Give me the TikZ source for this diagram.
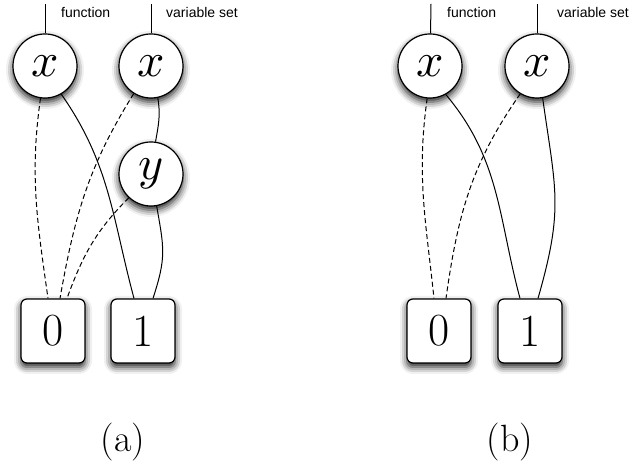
\documentclass[tikz,border=0pt]{standalone}
\usepackage{fontspec}
\usepackage{unicode-math}
\setmathfont{Latin Modern Math}
\newfontfamily\lblfont{Liberation Sans}
\usetikzlibrary{positioning,shadows.blur}

\begin{document}
\begin{tikzpicture}[x=1pt, y=1pt,
    var/.style={circle, draw, line width=1.2pt, fill=white, minimum size=64pt,
          inner sep=0pt, font=\fontsize{48}{50}\selectfont,
          blur shadow={shadow xshift=0pt, shadow yshift=-4pt,
          shadow blur radius=7pt, shadow opacity=90}},
    term/.style={draw, line width=1.2pt, fill=white, rounded corners=6pt,
          minimum size=64pt, inner sep=0pt, font=\fontsize{46}{48}\selectfont,
          blur shadow={shadow xshift=0pt, shadow yshift=-4pt,
          shadow blur radius=7pt, shadow opacity=90}},
    hi/.style={line width=1pt},
    lo/.style={line width=1pt, dash pattern=on 5pt off 3pt},
    lbl/.style={anchor=base west, inner sep=0pt,
          font=\lblfont\fontsize{14}{16}\selectfont},
    subcap/.style={font=\fontsize{38}{40}\selectfont}]
  \useasboundingbox (0,0) rectangle (630,465);

  % (a) with the extra y node
  \node[var] (fa) at (45,399) {$x$};
  \node[var] (va) at (151,399) {$x$};
  \node[var] (ya) at (151,291) {$y$};
  \node[term] (za) at (53,134) {0};
  \node[term] (oa) at (143,134) {1};
  \coordinate (fa top) at (45,461);
  \coordinate (va top) at (151,461);
  \node[lbl] (fa lbl) at (61,447) {function};
  \node[lbl] (va lbl) at (166,447) {variable set};
  \node[subcap] (capa) at (123,23) {(a)};

  \draw[hi] (fa top) -- (fa);
  \draw[hi] (va top) -- (va);
  \draw[lo] (fa.262) to[out=262, in=98] ([xshift=-5pt]za.north);
  \draw[hi] (fa.300) to[out=-55, in=105] ([xshift=-9pt]oa.north);
  \draw[lo] (va.238) to[out=238, in=80] ([xshift=7pt]za.north);
  \draw[hi] (va.282) to[out=-80, in=80] (ya.82);
  \draw[lo] (ya.227) to[out=225, in=70] ([xshift=14pt]za.north);
  \draw[hi] (ya.280) to[out=-80, in=72, looseness=1.2] ([xshift=10pt]oa.north);

  % (b) reduced
  \node[var] (fb) at (430,399) {$x$};
  \node[var] (vb) at (537,399) {$x$};
  \node[term] (zb) at (439,134) {0};
  \node[term] (ob) at (530,134) {1};
  \coordinate (fb top) at (431,461);
  \coordinate (vb top) at (537,461);
  \node[lbl] (fb lbl) at (447,447) {function};
  \node[lbl] (vb lbl) at (557,447) {variable set};
  \node[subcap] (capb) at (510,23) {(b)};

  \draw[hi] (fb top) -- (fb);
  \draw[hi] (vb top) -- (vb);
  \draw[lo] (fb.265) to[out=262, in=96] ([xshift=-5pt]zb.north);
  \draw[hi] (fb.299) to[out=-50, in=105] ([xshift=-10pt]ob.north);
  \draw[lo] (vb.239) to[out=235, in=82] ([xshift=7pt]zb.north);
  \draw[hi] (vb.280) to[out=-82, in=74, looseness=1.2] ([xshift=8pt]ob.north);
\end{tikzpicture}
\end{document}
